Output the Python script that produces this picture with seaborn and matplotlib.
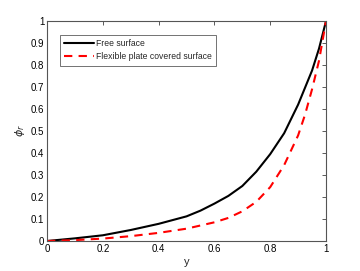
import numpy as np
import pandas as pd
import matplotlib
matplotlib.use("Agg")
import matplotlib.pyplot as plt
import seaborn as sns

# values
y_free = [0, 0.1, 0.2, 0.3, 0.4, 0.5, 0.55, 0.6, 0.65, 0.7, 0.75, 0.8, 0.85, 0.9, 0.95, 0.975, 1.0]
phi_free = [0, 0.012, 0.026, 0.05, 0.078, 0.112, 0.138, 0.17, 0.205, 0.25, 0.315, 0.395, 0.49, 0.62, 0.775, 0.875, 1.0]

y_plate = [0, 0.1, 0.2, 0.3, 0.4, 0.5, 0.6, 0.65, 0.7, 0.75, 0.8, 0.85, 0.9, 0.925, 0.95, 0.975, 1.0]
phi_plate = [0, 0.004, 0.011, 0.022, 0.037, 0.056, 0.085, 0.105, 0.135, 0.178, 0.245, 0.345, 0.48, 0.575, 0.69, 0.82, 1.0]

labels = ["Free surface", "Flexible plate covered surface"]

sns.set_style("white")
plt.rcParams["font.family"] = ["Liberation Sans", "DejaVu Sans"]
plt.rcParams["mathtext.fontset"] = "dejavusans"

fig = plt.figure(figsize=(3.6, 2.71), dpi=100)
ax = fig.add_axes([0.1306, 0.1107, 0.775, 0.8118])

sns.lineplot(x=y_free, y=phi_free, ax=ax, color="black", lw=1.5, label=labels[0])
sns.lineplot(x=y_plate, y=phi_plate, ax=ax, color="red", lw=1.5, label=labels[1])
ax.lines[1].set_dashes([4, 3])

ax.set_xlim(0, 1)
ax.set_ylim(0, 1)
ax.set_xticks(np.arange(0, 1.01, 0.2))
ax.set_yticks(np.arange(0, 1.01, 0.1))
ax.set_xticklabels(["0", "0.2", "0.4", "0.6", "0.8", "1"])
ax.set_yticklabels(["0", "0.1", "0.2", "0.3", "0.4", "0.5", "0.6", "0.7", "0.8", "0.9", "1"])
ax.tick_params(direction="in", length=3, width=0.6, labelsize=7, top=True, right=True,
               colors="#404040", labelcolor="black", pad=2)
for s in ax.spines.values():
    s.set_color("#555555")
    s.set_linewidth(0.8)

ax.set_xlabel("y", fontsize=8, labelpad=2)
ax.set_ylabel(r"$\phi_r$", fontsize=8, labelpad=3)

leg = ax.legend(loc="upper left", bbox_to_anchor=(0.047, 0.936), fontsize=6.2,
                frameon=True, fancybox=False, edgecolor="#333333", handlelength=3.4,
                handletextpad=0.3, borderpad=0.5, labelspacing=0.45, borderaxespad=0)
leg.get_frame().set_linewidth(0.6)

fig.savefig("out.png", dpi=100)
